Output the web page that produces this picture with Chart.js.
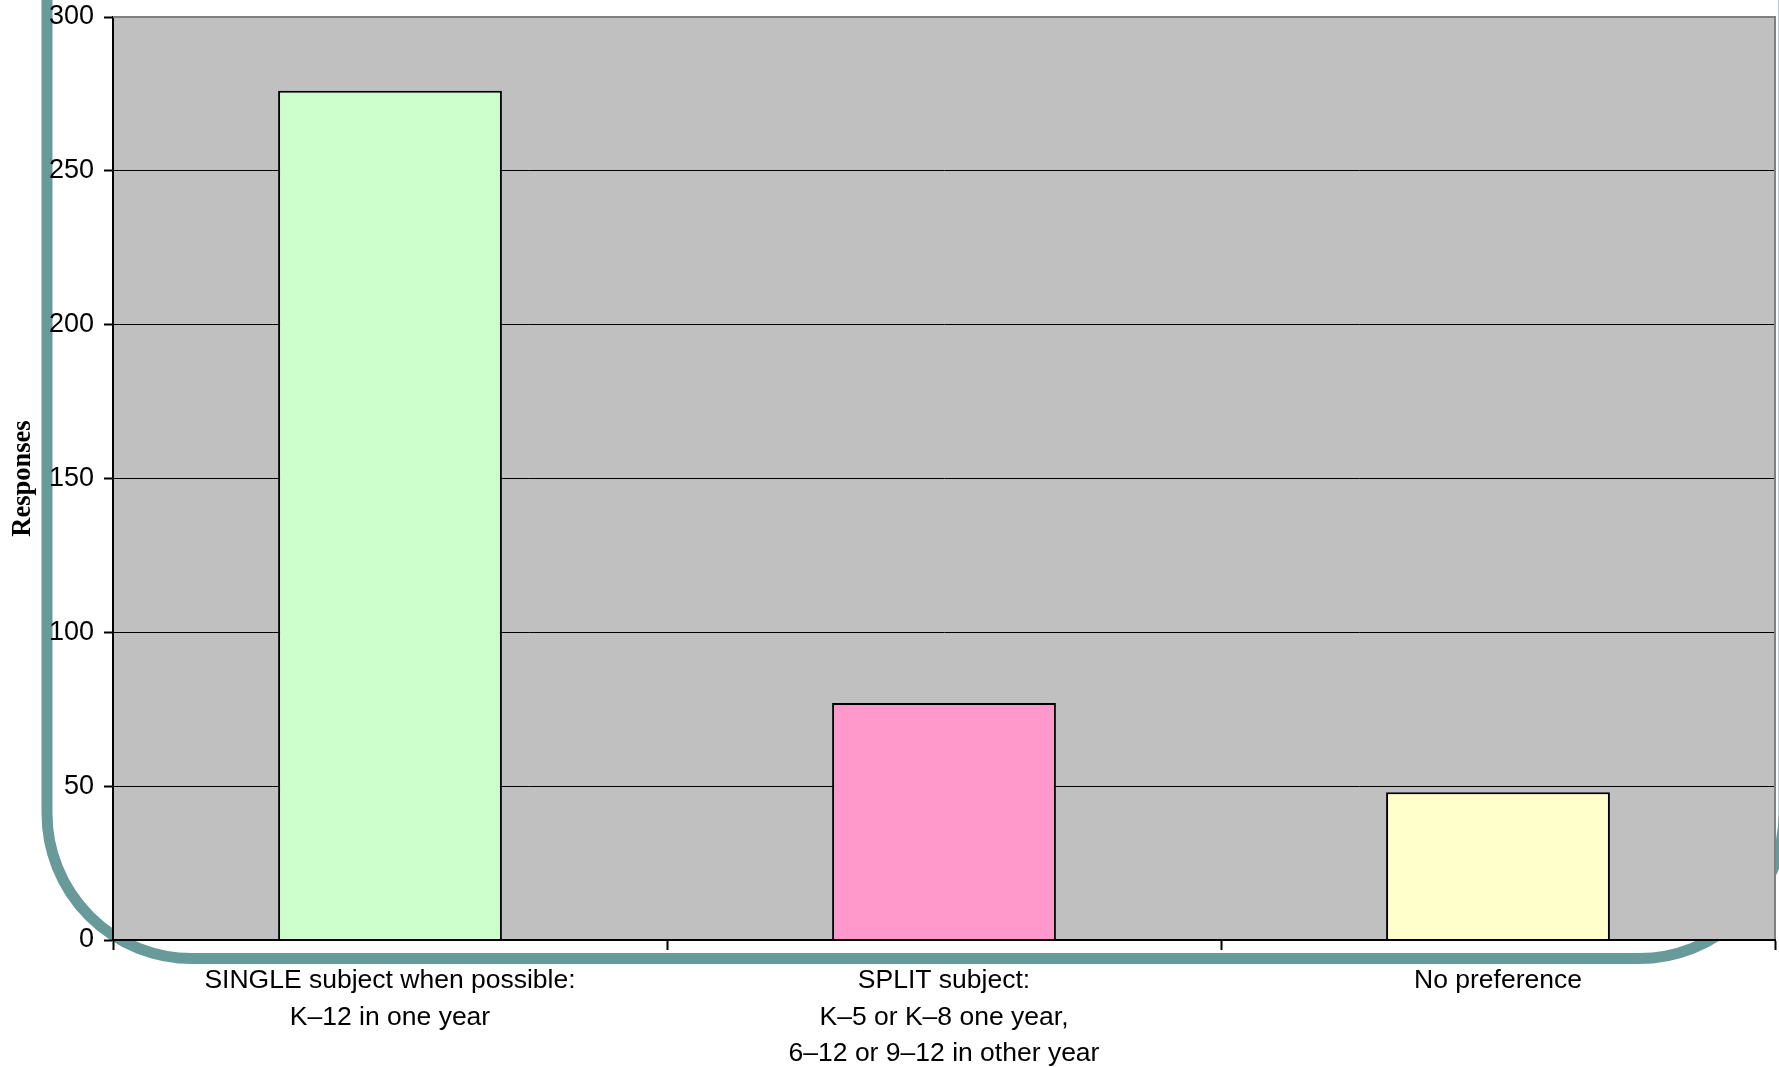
<!DOCTYPE html>
<html>
<head>
<meta charset="utf-8">
<script src="https://cdn.jsdelivr.net/npm/chart.js@4/dist/chart.umd.min.js"></script>
<style>
  html, body { margin: 0; padding: 0; background: #ffffff; }
  #wrap { position: relative; width: 1779px; height: 1067px; }
</style>
</head>
<body>
<div id="wrap"><canvas id="chart"></canvas></div>
<script>
// Survey answers: preferred arrangement of subjects
const categories = [
  ['SINGLE subject when possible:', 'K\u201312 in one year'],
  ['SPLIT subject:', 'K\u20135 or K\u20138 one year,', '6\u201312 or 9\u201312 in other year'],
  'No preference'
];
const responses = [276, 77, 48];
const barColors = ['#ccffcc', '#ff99cc', '#ffffcc'];
const yMin = 0;
const yMax = 300;
const yStep = 50;
const yTitle = 'Responses';

// Rounded frame behind the chart plus the grey plot background
const backdrop = {
  id: 'backdrop',
  beforeDraw(chart) {
    const ctx = chart.ctx;
    const a = chart.chartArea;
    ctx.save();
    // teal rounded frame
    const x0 = 47, y0 = -300, x1 = 1784, y1 = 958.5, r = 145;
    ctx.strokeStyle = '#679a98';
    ctx.lineWidth = 11;
    ctx.beginPath();
    ctx.moveTo(x0 + r, y0);
    ctx.lineTo(x1 - r, y0);
    ctx.arcTo(x1, y0, x1, y0 + r, r);
    ctx.lineTo(x1, y1 - r);
    ctx.arcTo(x1, y1, x1 - r, y1, r);
    ctx.lineTo(x0 + r, y1);
    ctx.arcTo(x0, y1, x0, y1 - r, r);
    ctx.lineTo(x0, y0 + r);
    ctx.arcTo(x0, y0, x0 + r, y0, r);
    ctx.closePath();
    ctx.stroke();
    // plot area fill
    ctx.fillStyle = '#c0c0c0';
    ctx.fillRect(a.left, a.top, a.right - a.left, a.bottom - a.top);
    ctx.restore();
  },
  afterDatasetsDraw(chart) {
    const ctx = chart.ctx;
    const a = chart.chartArea;
    ctx.save();
    ctx.strokeStyle = '#808080';
    ctx.lineWidth = 2;
    ctx.beginPath();
    ctx.moveTo(a.left, a.top);
    ctx.lineTo(a.right, a.top);
    ctx.lineTo(a.right, a.bottom);
    ctx.stroke();
    ctx.restore();
  }
};

new Chart(document.getElementById('chart'), {
  type: 'bar',
  data: {
    labels: categories,
    datasets: [{
      data: responses,
      backgroundColor: barColors,
      borderColor: '#000000',
      borderWidth: 2,
      categoryPercentage: 1.0,
      barPercentage: 0.404
    }]
  },
  options: {
    responsive: true,
    maintainAspectRatio: false,
    devicePixelRatio: 1,
    animation: false,
    layout: { padding: { left: 0, top: 17, right: 4, bottom: 0 } },
    plugins: {
      legend: { display: false },
      tooltip: { enabled: false }
    },
    scales: {
      x: {
        offset: true,
        afterFit(scale) { scale.height = 127; },
        grid: {
          display: true,
          drawOnChartArea: false,
          offset: true,
          tickLength: 10,
          tickWidth: 2,
          tickColor: '#000000'
        },
        border: { display: true, color: '#000000', width: 2, z: 1 },
        ticks: {
          color: '#000000',
          font: { family: '"Liberation Sans", Arial, sans-serif', size: 26.5, lineHeight: 1.37 },
          padding: 13,
          maxRotation: 0,
          autoSkip: false
        }
      },
      y: {
        min: yMin,
        max: yMax,
        afterFit(scale) {
          scale.width = 113;
          scale.paddingTop = 0;
          scale.paddingBottom = 0;
        },
        grid: {
          color: (c) => (c.tick && c.tick.value === yMax ? '#808080' : '#000000'),
          lineWidth: 1,
          tickLength: 9,
          tickWidth: 2,
          tickColor: '#000000'
        },
        border: { display: true, color: '#000000', width: 2 },
        ticks: {
          stepSize: yStep,
          color: '#000000',
          font: { family: '"Liberation Sans", Arial, sans-serif', size: 27 },
          padding: 10
        },
        title: {
          display: true,
          text: yTitle,
          color: '#000000',
          font: { family: '"Liberation Serif", "Times New Roman", serif', size: 26.5, weight: 'bold', lineHeight: 1.2 },
          padding: { top: 7, bottom: 0 }
        }
      }
    }
  },
  plugins: [backdrop]
});
</script>
</body>
</html>
